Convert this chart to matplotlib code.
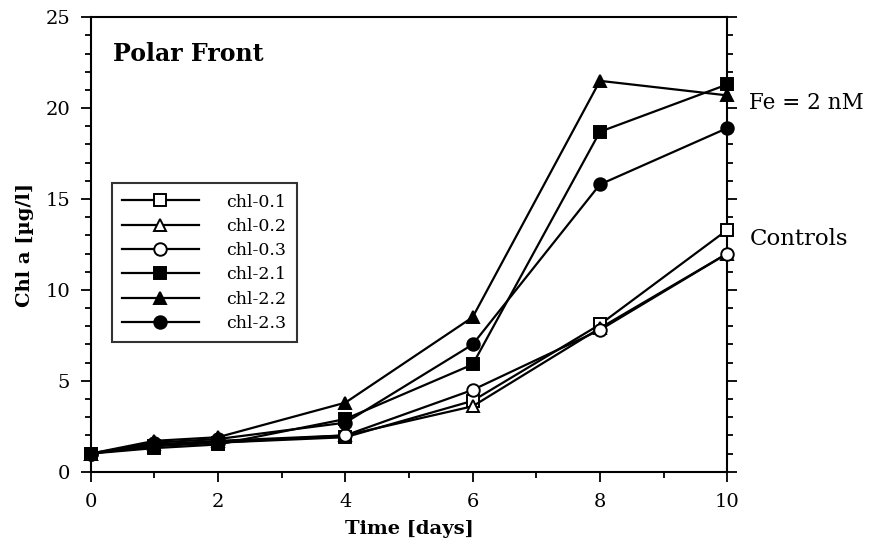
import numpy as np
import matplotlib
matplotlib.use("Agg")
import matplotlib.pyplot as plt
from matplotlib.ticker import MultipleLocator

days = [0, 1, 2, 4, 6, 8, 10]
chl_01 = [1.0, 1.4, 1.6, 1.9, 3.9, 8.1, 13.3]
chl_02 = [1.0, 1.5, 1.7, 2.0, 3.6, 7.9, 12.0]
chl_03 = [1.0, 1.5, 1.6, 2.0, 4.5, 7.8, 12.0]
chl_21 = [1.0, 1.3, 1.5, 2.9, 5.9, 18.7, 21.3]
chl_22 = [1.0, 1.7, 1.9, 3.8, 8.5, 21.5, 20.7]
chl_23 = [1.0, 1.6, 1.8, 2.7, 7.0, 15.8, 18.9]

labels = ["chl-0.1", "chl-0.2", "chl-0.3", "chl-2.1", "chl-2.2", "chl-2.3"]
series = [chl_01, chl_02, chl_03, chl_21, chl_22, chl_23]
markers = ["s", "^", "o", "s", "^", "o"]
filled = [False, False, False, True, True, True]

plt.rcParams["font.family"] = ["DejaVu Serif"]

fig = plt.figure(figsize=(8.73, 5.55), dpi=100)
ax = fig.add_axes([0.104, 0.150, 0.729, 0.819])

for vals, lab, m, f in zip(series, labels, markers, filled):
    ax.plot(days, vals, color="black", lw=1.6, marker=m, ms=9,
            mfc="black" if f else "white", mec="black", mew=1.4, label=lab,
            clip_on=False, zorder=3)

ax.set_xlim(0, 10)
ax.set_ylim(0, 25)
ax.xaxis.set_major_locator(MultipleLocator(2))
ax.xaxis.set_minor_locator(MultipleLocator(1))
ax.yaxis.set_major_locator(MultipleLocator(5))
ax.yaxis.set_minor_locator(MultipleLocator(1))
ax.tick_params(which="both", direction="out", width=1.3, labelsize=14, right=True)
ax.tick_params(which="major", length=7, pad=8)
ax.tick_params(which="minor", length=4)
for s in ax.spines.values():
    s.set_linewidth(1.5)

ax.set_xlabel("Time [days]", fontsize=14, fontweight="bold", labelpad=7)
ax.set_ylabel("Chl a [\u00b5g/l]", fontsize=14, fontweight="bold", labelpad=8)

ax.text(0.35, 23.0, "Polar Front", fontsize=17, fontweight="semibold", va="center")
ax.text(10.35, 20.3, "Fe = 2 nM", fontsize=15.5, va="center", clip_on=False)
ax.text(10.35, 12.8, "Controls", fontsize=16.5, va="center", clip_on=False)

leg = ax.legend(loc="upper left", bbox_to_anchor=(0.033, 0.635), fontsize=12.5,
                handlelength=4.4, handletextpad=1.6, labelspacing=0.42,
                frameon=True, fancybox=False, edgecolor="black",
                borderpad=0.6, borderaxespad=0)
leg.get_frame().set_linewidth(1.5)

fig.savefig("out.png", dpi=100)
